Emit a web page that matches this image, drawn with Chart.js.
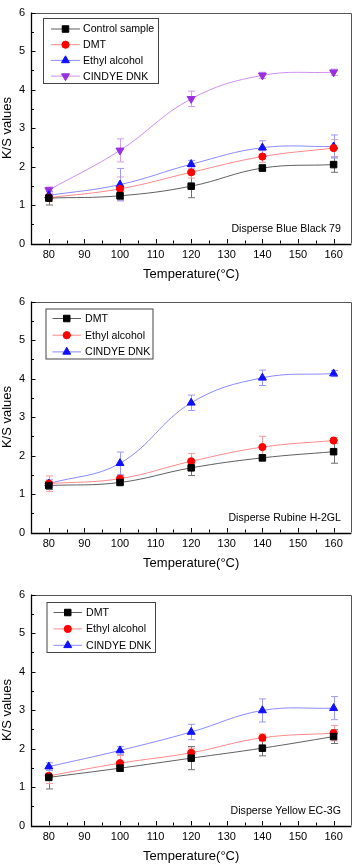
<!DOCTYPE html>
<html><head><meta charset="utf-8">
<script src="https://cdn.jsdelivr.net/npm/chart.js@4.4.0/dist/chart.umd.min.js"></script>
<style>
html,body{margin:0;padding:0;background:#fff;width:357px;height:866px;overflow:hidden}
.p{position:absolute;left:0;width:357px;height:290px}
canvas{display:block}
</style></head><body>
<div class="p" style="top:0"><canvas id="c1" width="357" height="290"></canvas></div>
<div class="p" style="top:289px"><canvas id="c2" width="357" height="290"></canvas></div>
<div class="p" style="top:582px"><canvas id="c3" width="357" height="290"></canvas></div>
<script>
// ---------- data ----------
const temperatures = [80, 100, 120, 140, 160];
const xTickValues = [80, 90, 100, 110, 120, 130, 140, 150, 160];
const yTickValues = [0, 1, 2, 3, 4, 5, 6];
const xTitle = 'Temperature(°C)';
const yTitle = 'K/S values';

// Panel 1: Disperse Blue Black 79
const p1Title = 'Disperse Blue Black 79';
const p1Labels = ['Control sample', 'DMT', 'Ethyl alcohol', 'CINDYE DNK'];
const p1Control = [1.18, 1.24, 1.49, 1.96, 2.05];
const p1ControlErr = [0.18, 0.10, 0.30, 0.08, 0.20];
const p1DMT = [1.19, 1.42, 1.85, 2.26, 2.48];
const p1DMTErr = [0.10, 0.31, 0.15, 0.15, 0.22];
const p1Ethyl = [1.25, 1.53, 2.06, 2.49, 2.52];
const p1EthylErr = [0.10, 0.42, 0.10, 0.18, 0.30];
const p1Cindye = [1.39, 2.42, 3.76, 4.37, 4.45];
const p1CindyeErr = [0.08, 0.30, 0.20, 0.08, 0.08];

// Panel 2: Disperse Rubine H-2GL
const p2Title = 'Disperse Rubine H-2GL';
const p2Labels = ['DMT', 'Ethyl alcohol', 'CINDYE DNK'];
const p2DMT = [1.22, 1.30, 1.68, 1.94, 2.10];
const p2DMTErr = [0.10, 0.05, 0.20, 0.08, 0.30];
const p2Ethyl = [1.27, 1.40, 1.85, 2.22, 2.39];
const p2EthylErr = [0.20, 0.08, 0.20, 0.28, 0.08];
const p2Cindye = [1.27, 1.80, 3.37, 4.02, 4.13];
const p2CindyeErr = [0.10, 0.29, 0.20, 0.20, 0.08];

// Panel 3: Disperse Yellow EC-3G
const p3Title = 'Disperse Yellow EC-3G';
const p3Labels = ['DMT', 'Ethyl alcohol', 'CINDYE DNK'];
const p3DMT = [1.25, 1.49, 1.75, 2.01, 2.31];
const p3DMTErr = [0.30, 0.08, 0.30, 0.20, 0.18];
const p3Ethyl = [1.29, 1.62, 1.89, 2.28, 2.40];
const p3EthylErr = [0.20, 0.20, 0.12, 0.10, 0.20];
const p3Cindye = [1.53, 1.95, 2.43, 2.99, 3.05];
const p3CindyeErr = [0.10, 0.10, 0.20, 0.30, 0.30];

// ---------- styles ----------
const FONT = '"Liberation Sans", Arial, sans-serif';
Chart.defaults.font.family = FONT;
Chart.defaults.color = '#000';

const STY = {
  black:  {marker: '#000000', line: '#606060', err: '#707070', style: 'rect', radius: 4.6, rotation: 0},
  red:    {marker: '#ff0000', line: '#ff8a8a', err: '#ff9a9a', style: 'circle', radius: 3.6, rotation: 0},
  blue:   {marker: '#1010ff', line: '#8a8aff', err: '#9a9aff', style: 'triangle', radius: 4.6, rotation: 0},
  violet: {marker: '#9a2ee0', line: '#cf8ff2', err: '#d49cf2', style: 'triangle', radius: 4.6, rotation: 180}
};

function makeDataset(label, values, errors, s) {
  return {
    label,
    data: temperatures.map((t, i) => ({x: t, y: values[i]})),
    errors,
    errColor: s.err,
    borderColor: s.line,
    borderWidth: 1,
    backgroundColor: s.marker,
    pointBackgroundColor: s.marker,
    pointBorderColor: s.marker,
    pointBorderWidth: 1,
    pointStyle: s.style,
    pointRotation: s.rotation,
    pointRadius: s.radius,
    pointHoverRadius: s.radius,
    tension: 0.4,
    fill: false
  };
}

const extras = {
  id: 'extras',
  beforeDatasetsDraw(chart) {
    const {ctx, scales: {x, y}} = chart;
    ctx.save();
    ctx.lineWidth = 1;
    chart.data.datasets.forEach(ds => {
      ctx.strokeStyle = ds.errColor;
      ds.data.forEach((p, j) => {
        const e = ds.errors[j];
        const px = Math.round(x.getPixelForValue(p.x)) + 0.5;
        const y1 = y.getPixelForValue(p.y + e), y2 = y.getPixelForValue(p.y - e);
        ctx.beginPath();
        ctx.moveTo(px, y1); ctx.lineTo(px, y2);
        ctx.moveTo(px - 3.5, y1); ctx.lineTo(px + 3.5, y1);
        ctx.moveTo(px - 3.5, y2); ctx.lineTo(px + 3.5, y2);
        ctx.stroke();
      });
    });
    ctx.restore();
  },
  afterDraw(chart, args, opts) {
    const {ctx, chartArea: a, scales: {x, y}} = chart;
    ctx.save();
    // frame
    ctx.lineWidth = 1;
    ctx.strokeStyle = '#555';
    ctx.beginPath();
    ctx.moveTo(a.left, Math.round(a.top) + 0.5); ctx.lineTo(Math.round(a.right) + 0.5, Math.round(a.top) + 0.5);
    ctx.lineTo(Math.round(a.right) + 0.5, a.bottom);
    ctx.stroke();
    ctx.strokeStyle = '#000';
    ctx.lineWidth = 1.3;
    ctx.beginPath();
    ctx.moveTo(Math.round(a.left) + 0.5, a.top); ctx.lineTo(Math.round(a.left) + 0.5, Math.round(a.bottom) + 0.5);
    ctx.lineTo(a.right, Math.round(a.bottom) + 0.5);
    ctx.stroke();
    // inward ticks
    ctx.lineWidth = 1;
    ctx.beginPath();
    const xl = x.getUserBounds();
    for (let v = xTickValues[0]; v <= xTickValues[xTickValues.length - 1]; v += 5) {
      const px = Math.round(x.getPixelForValue(v)) + 0.5;
      const len = (v % 10 === 0) ? 4.5 : 3;
      ctx.moveTo(px, a.bottom); ctx.lineTo(px, a.bottom - len);
    }
    for (let v = yTickValues[0]; v <= yTickValues[yTickValues.length - 1]; v += 0.5) {
      const py = Math.round(y.getPixelForValue(v)) + 0.5;
      const len = (Math.abs(v - Math.round(v)) < 1e-9) ? 4.5 : 3;
      ctx.moveTo(a.left, py); ctx.lineTo(a.left + len, py);
    }
    ctx.stroke();
    // annotation
    ctx.fillStyle = '#000';
    ctx.font = '10.6px ' + FONT;
    ctx.textAlign = 'right';
    ctx.textBaseline = 'middle';
    ctx.fillText(opts.note, a.right - 10.5, a.bottom - 14.5);
    // legend
    const L = opts.legend;
    ctx.strokeStyle = '#444';
    ctx.lineWidth = 1;
    ctx.strokeRect(L.left + 0.5, L.top + 0.5, L.width, L.height);
    ctx.font = '10.6px ' + FONT;
    ctx.textAlign = 'left';
    chart.data.datasets.forEach((ds, i) => {
      const ry = L.top + L.firstRow + i * L.rowStep;
      ctx.strokeStyle = ds.borderColor;
      ctx.lineWidth = 1;
      ctx.beginPath();
      ctx.moveTo(L.left + L.lineStart, ry); ctx.lineTo(L.left + L.lineEnd, ry);
      ctx.stroke();
      ctx.fillStyle = ds.pointBackgroundColor;
      ctx.strokeStyle = ds.pointBorderColor;
      Chart.helpers.drawPoint(ctx, {pointStyle: ds.pointStyle, rotation: ds.pointRotation, radius: ds.pointRadius, borderWidth: 1},
        L.left + (L.lineStart + L.lineEnd) / 2, ry);
      ctx.fillStyle = '#000';
      ctx.fillText(ds.label, L.left + L.textX, ry + 0.5);
    });
    ctx.restore();
  }
};

function makeChart(id, datasets, note, legend) {
  return new Chart(document.getElementById(id), {
    type: 'line',
    data: {datasets},
    plugins: [extras],
    options: {
      responsive: false,
      animation: false,
      devicePixelRatio: 1,
      layout: {padding: {left: 0, right: 2.4, top: 7, bottom: 0}},
      plugins: {
        legend: {display: false},
        tooltip: {enabled: false},
        extras: {note, legend}
      },
      scales: {
        x: {
          type: 'linear', min: 75, max: 165,
          afterBuildTicks: s => { s.ticks = xTickValues.map(v => ({value: v})); },
          afterFit: s => { s.height = 46.5; },
          grid: {display: false, drawTicks: false},
          border: {display: false},
          ticks: {padding: 5, font: {size: 11}, color: '#000'},
          title: {display: true, text: xTitle, font: {size: 13}, color: '#000', padding: {top: 0, bottom: 7.5}}
        },
        y: {
          type: 'linear', min: 0, max: 6,
          afterBuildTicks: s => { s.ticks = yTickValues.map(v => ({value: v})); },
          afterFit: s => { s.width = 31; },
          grid: {display: false, drawTicks: false},
          border: {display: false},
          ticks: {padding: 6, font: {size: 11}, color: '#000'},
          title: {display: true, text: yTitle, font: {size: 13}, color: '#000', padding: {top: 0, bottom: 0}}
        }
      }
    }
  });
}

makeChart('c1', [
  makeDataset(p1Labels[0], p1Control, p1ControlErr, STY.black),
  makeDataset(p1Labels[1], p1DMT, p1DMTErr, STY.red),
  makeDataset(p1Labels[2], p1Ethyl, p1EthylErr, STY.blue),
  makeDataset(p1Labels[3], p1Cindye, p1CindyeErr, STY.violet)
], p1Title, {left: 43, top: 18, width: 115, height: 65, firstRow: 11, rowStep: 15.7, lineStart: 8, lineEnd: 37, textX: 40});

makeChart('c2', [
  makeDataset(p2Labels[0], p2DMT, p2DMTErr, STY.black),
  makeDataset(p2Labels[1], p2Ethyl, p2EthylErr, STY.red),
  makeDataset(p2Labels[2], p2Cindye, p2CindyeErr, STY.blue)
], p2Title, {left: 45.5, top: 19.5, width: 107, height: 50, firstRow: 10, rowStep: 16.7, lineStart: 7, lineEnd: 35.5, textX: 39.5});

makeChart('c3', [
  makeDataset(p3Labels[0], p3DMT, p3DMTErr, STY.black),
  makeDataset(p3Labels[1], p3Ethyl, p3EthylErr, STY.red),
  makeDataset(p3Labels[2], p3Cindye, p3CindyeErr, STY.blue)
], p3Title, {left: 46.5, top: 20, width: 108.5, height: 50, firstRow: 10.5, rowStep: 16.4, lineStart: 7, lineEnd: 35.5, textX: 39.5});
</script>
</body></html>
